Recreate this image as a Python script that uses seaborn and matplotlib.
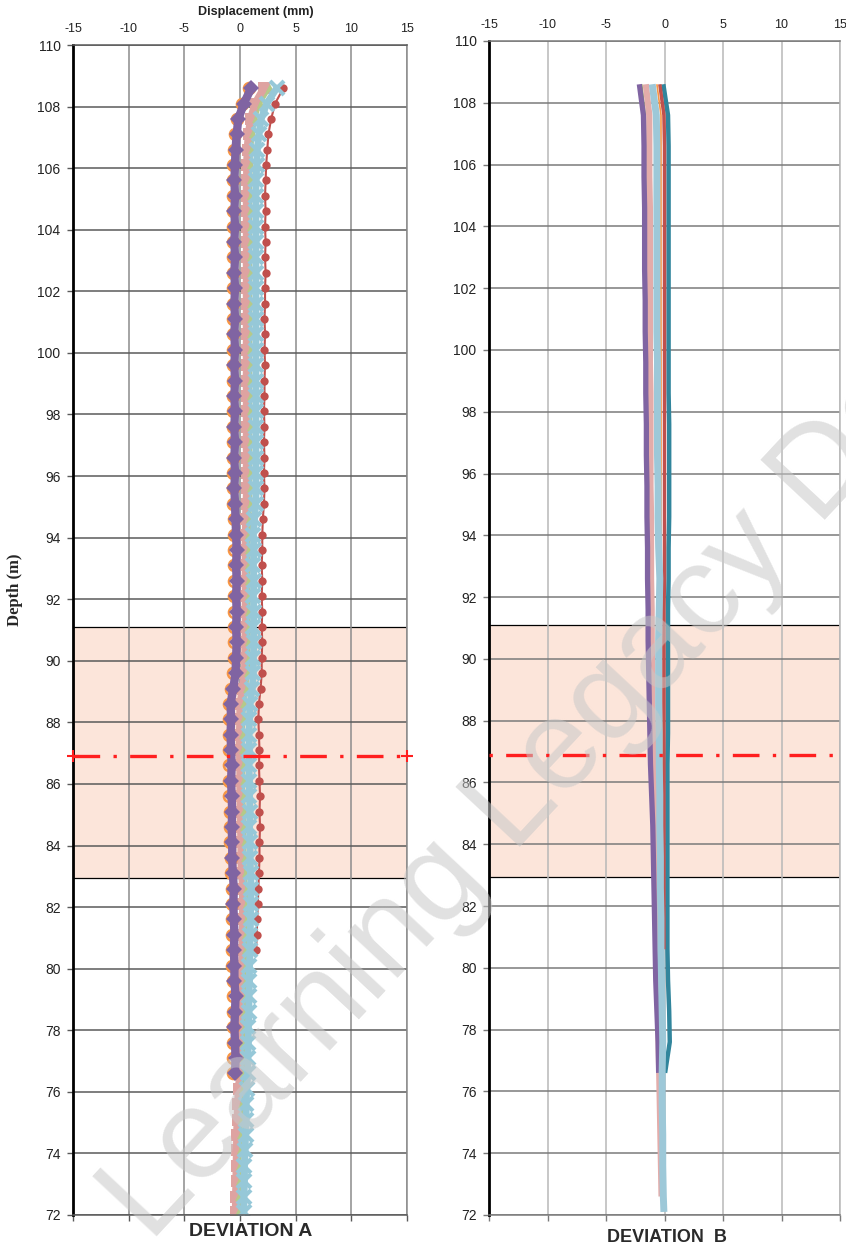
import numpy as np
import matplotlib.pyplot as plt
import seaborn as sns

nan = np.nan

# depth stations (m)
DEPTH_A = [72.1, 72.6, 73.1, 73.6, 74.1, 74.6, 75.1, 75.6, 76.1, 76.6,
           77.1, 77.6, 78.1, 78.6, 79.1, 79.6, 80.1, 80.6, 81.1, 81.6,
           82.1, 82.6, 83.1, 83.6, 84.1, 84.6, 85.1, 85.6, 86.1, 86.6,
           87.1, 87.6, 88.1, 88.6, 89.1, 89.6, 90.1, 90.6, 91.1, 91.6,
           92.1, 92.6, 93.1, 93.6, 94.1, 94.6, 95.1, 95.6, 96.1, 96.6,
           97.1, 97.6, 98.1, 98.6, 99.1, 99.6, 100.1, 100.6, 101.1, 101.6,
           102.1, 102.6, 103.1, 103.6, 104.1, 104.6, 105.1, 105.6, 106.1, 106.6,
           107.1, 107.6, 108.1, 108.6]

DEPTH_B = [72.1, 72.6, 73.6, 74.6, 75.6, 76.6, 77.6, 78.6, 79.6, 80.6,
           81.6, 82.6, 83.6, 84.6, 85.6, 86.6, 87.6, 88.6, 89.6, 90.6,
           91.6, 92.6, 93.6, 94.6, 95.6, 96.6, 97.6, 98.6, 99.6, 100.6,
           101.6, 102.6, 103.6, 104.6, 105.6, 106.6, 107.6, 108.6]

# deviation A readings (mm)
a_red = [nan, nan, nan, nan, nan, nan, nan, nan, nan, nan,
         nan, nan, nan, nan, nan, nan, nan, 1.45, 1.5, 1.55,
         1.6, 1.65, 1.7, 1.75, 1.75, 1.8, 1.75, 1.8, 1.75, 1.7,
         1.75, 1.7, 1.65, 1.7, 1.85, 1.95, 1.95, 2.0, 1.95, 2.0,
         1.95, 2.0, 1.95, 2.0, 2.0, 2.05, 2.15, 2.2, 2.15, 2.2,
         2.15, 2.2, 2.15, 2.2, 2.2, 2.25, 2.2, 2.25, 2.2, 2.25,
         2.25, 2.3, 2.25, 2.3, 2.25, 2.3, 2.25, 2.3, 2.35, 2.45,
         2.55, 2.8, 3.15, 3.9]
a_pink = [-0.35, -0.35, -0.3, -0.3, -0.25, -0.25, -0.2, -0.15, -0.1, 0.05,
          0.1, 0.1, 0.15, 0.15, 0.2, 0.2, 0.2, 0.25, 0.25, 0.3,
          0.3, 0.3, 0.2, 0.15, 0.15, 0.1, 0.1, 0.05, 0.05, 0.05,
          0.0, 0.0, 0.05, 0.05, 0.3, 0.45, 0.5, 0.5, 0.55, 0.5,
          0.55, 0.5, 0.55, 0.5, 0.55, 0.55, 0.6, 0.65, 0.6, 0.65,
          0.6, 0.65, 0.6, 0.65, 0.6, 0.65, 0.6, 0.65, 0.6, 0.65,
          0.6, 0.65, 0.6, 0.65, 0.6, 0.65, 0.6, 0.65, 0.65, 0.7,
          0.8, 1.0, 1.4, 2.2]
a_green = [-0.05, -0.05, 0.0, 0.0, 0.05, 0.1, 0.15, 0.2, 0.25, 0.35,
           0.4, 0.4, 0.45, 0.45, 0.5, 0.5, 0.5, 0.55, 0.55, 0.6,
           0.6, 0.6, 0.5, 0.45, 0.45, 0.4, 0.4, 0.35, 0.35, 0.35,
           0.3, 0.3, 0.35, 0.4, 0.6, 0.75, 0.8, 0.8, 0.85, 0.8,
           0.85, 0.8, 0.85, 0.8, 0.85, 0.9, 0.95, 1.0, 0.95, 1.0,
           0.95, 1.0, 0.95, 1.0, 0.95, 1.0, 0.95, 1.0, 0.95, 1.0,
           0.95, 1.0, 0.95, 1.0, 0.95, 1.0, 0.95, 1.0, 1.0, 1.05,
           1.2, 1.4, 1.85, 2.7]
a_blue = [0.35, 0.35, 0.4, 0.4, 0.45, 0.5, 0.55, 0.55, 0.6, 0.7,
          0.7, 0.75, 0.75, 0.8, 0.8, 0.85, 0.85, 0.9, 0.9, 0.95,
          0.95, 1.0, 0.95, 0.9, 0.9, 0.85, 0.9, 0.85, 0.85, 0.8,
          0.85, 0.8, 0.85, 0.9, 1.1, 1.2, 1.2, 1.25, 1.2, 1.25,
          1.2, 1.25, 1.2, 1.25, 1.2, 1.3, 1.4, 1.45, 1.4, 1.45,
          1.4, 1.45, 1.4, 1.45, 1.4, 1.45, 1.4, 1.45, 1.4, 1.45,
          1.4, 1.45, 1.4, 1.45, 1.4, 1.45, 1.4, 1.45, 1.5, 1.55,
          1.7, 1.9, 2.4, 3.3]
a_orange = [nan, nan, nan, nan, nan, nan, nan, nan, nan, -0.6,
            -0.6, -0.65, -0.65, -0.6, -0.6, -0.65, -0.7, -0.7, -0.7, -0.75,
            -0.75, -0.75, -0.85, -0.85, -0.9, -0.9, -0.9, -0.95, -0.95, -0.95,
            -1.0, -1.0, -1.0, -1.0, -0.8, -0.6, -0.5, -0.5, -0.5, -0.5,
            -0.5, -0.5, -0.5, -0.5, -0.5, -0.55, -0.6, -0.65, -0.6, -0.65,
            -0.6, -0.65, -0.6, -0.65, -0.6, -0.65, -0.6, -0.65, -0.6, -0.65,
            -0.6, -0.65, -0.6, -0.65, -0.6, -0.65, -0.6, -0.65, -0.6, -0.55,
            -0.45, -0.25, 0.2, 0.85]
a_purple = [nan, nan, nan, nan, nan, nan, nan, nan, nan, -0.45,
            -0.4, -0.45, -0.5, -0.45, -0.4, -0.5, -0.5, -0.55, -0.5, -0.55,
            -0.6, -0.55, -0.65, -0.7, -0.7, -0.75, -0.7, -0.75, -0.8, -0.75,
            -0.8, -0.85, -0.8, -0.85, -0.6, -0.4, -0.35, -0.3, -0.35, -0.3,
            -0.35, -0.3, -0.35, -0.3, -0.35, -0.4, -0.45, -0.5, -0.45, -0.5,
            -0.45, -0.5, -0.45, -0.5, -0.45, -0.5, -0.45, -0.5, -0.45, -0.5,
            -0.45, -0.5, -0.45, -0.5, -0.45, -0.5, -0.45, -0.5, -0.45, -0.4,
            -0.3, -0.15, 0.35, 1.0]

# deviation B readings (mm)
b_teal = [nan, nan, nan, nan, nan, 0.05, 0.45, 0.4, 0.3, 0.25,
          0.25, 0.25, 0.25, 0.25, 0.25, 0.25, 0.3, 0.3, 0.3, 0.3,
          0.3, 0.35, 0.35, 0.4, 0.4, 0.4, 0.4, 0.35, 0.35, 0.35,
          0.35, 0.35, 0.35, 0.35, 0.35, 0.35, 0.3, -0.1]
b_red = [nan, nan, nan, nan, nan, nan, nan, nan, nan, -0.05,
         -0.05, -0.05, -0.05, -0.05, -0.05, -0.05, -0.05, -0.05, -0.05, -0.05,
         -0.05, 0.0, 0.0, 0.0, 0.0, 0.0, 0.0, 0.0, 0.0, 0.0,
         0.0, 0.0, 0.0, 0.0, 0.0, 0.0, -0.05, -0.4]
b_orange = [nan, nan, nan, -0.1, -0.1, -0.1, -0.15, -0.15, -0.15, -0.2,
            -0.2, -0.2, -0.25, -0.25, -0.25, -0.25, -0.25, -0.3, -0.3, -0.3,
            -0.3, -0.3, -0.3, -0.3, -0.3, -0.3, -0.3, -0.3, -0.3, -0.3,
            -0.3, -0.3, -0.3, -0.3, -0.3, -0.3, -0.3, -0.65]
b_green = [nan, nan, nan, nan, nan, nan, -0.5, -0.55, -0.6, -0.65,
           -0.7, -0.75, -0.8, -0.85, -0.95, -1.05, -1.1, -1.15, -1.2, -1.25,
           -1.25, -1.3, -1.3, -1.35, -1.35, -1.4, -1.4, -1.45, -1.45, -1.5,
           -1.5, -1.55, -1.55, -1.55, -1.6, -1.6, -1.65, -1.95]
b_pink = [nan, -0.25, -0.3, -0.35, -0.4, -0.45, -0.5, -0.55, -0.6, -0.65,
          -0.7, -0.75, -0.8, -0.85, -0.9, -0.95, -1.0, -1.05, -1.05, -1.1,
          -1.1, -1.15, -1.15, -1.15, -1.2, -1.2, -1.2, -1.2, -1.25, -1.25,
          -1.25, -1.25, -1.25, -1.25, -1.3, -1.3, -1.3, -1.6]
b_purple = [nan, nan, nan, nan, nan, -0.5, -0.55, -0.65, -0.75, -0.8,
            -0.85, -0.9, -0.95, -1.0, -1.1, -1.2, -1.25, -1.3, -1.35, -1.4,
            -1.4, -1.45, -1.45, -1.5, -1.5, -1.55, -1.55, -1.6, -1.6, -1.65,
            -1.65, -1.7, -1.7, -1.7, -1.75, -1.75, -1.8, -2.15]
b_blue = [-0.05, -0.1, -0.15, -0.15, -0.2, -0.2, -0.15, -0.2, -0.25, -0.3,
          -0.3, -0.35, -0.35, -0.4, -0.4, -0.45, -0.45, -0.5, -0.5, -0.5,
          -0.45, -0.4, -0.5, -0.55, -0.55, -0.6, -0.6, -0.6, -0.6, -0.65,
          -0.65, -0.65, -0.65, -0.65, -0.65, -0.65, -0.7, -1.05]

X_LIM = [-15, 15]
Y_LIM = [72, 110]
X_TICKS = [-15, -10, -5, 0, 5, 10, 15]
Y_TICKS = list(range(72, 111, 2))
ZONE = [82.95, 91.1]     # shaded zone (m)
RED_LEVEL = 86.9         # dash-dot marker level (m)

sns.set_style('white')
plt.rcParams['font.family'] = ['Liberation Sans', 'DejaVu Sans']
plt.rcParams['axes.unicode_minus'] = False

fig = plt.figure(figsize=(8.46, 12.48), dpi=100)
axA = fig.add_axes([73/846, 1-1215/1248, 334/846, 1170/1248])
axB = fig.add_axes([489/846, 1-1215/1248, 351/846, 1174/1248])


def style_axes(ax, vcol, hcol):
    ax.set_xlim(X_LIM)
    ax.set_ylim(Y_LIM)
    ax.set_xticks(X_TICKS)
    ax.set_yticks(Y_TICKS)
    ax.set_axisbelow(True)
    ax.grid(True, axis='x', color=vcol, lw=1.1)
    ax.grid(True, axis='y', color=hcol, lw=1.1)
    ax.tick_params(axis='x', top=False, bottom=True, labeltop=True, labelbottom=False,
                   length=4, width=1, color=hcol, labelsize=9, pad=3, labelcolor='#222222')
    ax.tick_params(axis='y', left=True, length=4, width=1, color=hcol,
                   labelsize=10, pad=5, labelcolor='#222222')
    ax.spines['left'].set_color('black')
    ax.spines['left'].set_linewidth(2)
    for s in ['top', 'bottom']:
        ax.spines[s].set_color(hcol)
        ax.spines[s].set_linewidth(1.1)
    ax.spines['right'].set_color(vcol)
    ax.spines['right'].set_linewidth(1.1)
    ax.axhspan(ZONE[0], ZONE[1], facecolor='#FCE5DA', edgecolor='black', lw=0.9, zorder=0.3)
    ax.set_xlabel('')
    ax.set_ylabel('')


def marker_series(vals, col, lw, marker, ms, mew=0, mfc=None):
    sns.lineplot(x=vals, y=DEPTH_A, orient='y', sort=False, estimator=None, ax=axA,
                 color=col, lw=lw, marker=marker, markersize=ms,
                 markeredgewidth=mew, markeredgecolor=col,
                 markerfacecolor=col if mfc is None else mfc)


# --- Deviation A: lines with markers
marker_series(a_red, '#C0504D', 1.5, 'o', 6)
marker_series(a_pink, '#DEA3A1', 6, 's', 9)
marker_series(a_green, '#B5C98A', 2, '^', 6)
marker_series(a_blue, '#96C8D8', 5, 'x', 10, mew=3)
marker_series(a_orange, '#F79646', 1.5, 'o', 8, mew=1.8, mfc='none')
marker_series(a_purple, '#8064A2', 6, 'D', 8.5)

# --- Deviation B: lines only
b_series = [(b_teal, '#31859C', 3.2), (b_red, '#C0504D', 2.5), (b_orange, '#F79646', 1.2),
            (b_green, '#9BBB59', 1.2), (b_pink, '#E3ACAA', 4.5), (b_purple, '#8064A2', 3.8),
            (b_blue, '#9DC8D8', 5.0)]
for vals, col, w in b_series:
    sns.lineplot(x=vals, y=DEPTH_B, orient='y', sort=False, estimator=None, ax=axB,
                 color=col, lw=w, solid_capstyle='butt')

style_axes(axA, '#8c8c8c', '#5a5a5a')
style_axes(axB, '#b8b8b8', '#7a7a7a')

# red dash-dot reference level
axA.axhline(RED_LEVEL, color='#FF1F1F', lw=2.4, dashes=(8, 4, 1, 4), zorder=5)
axA.plot(X_LIM, [RED_LEVEL, RED_LEVEL], ls='none', marker='+', ms=8, mew=1.5,
         color='#FF1F1F', clip_on=False, zorder=5)
axB.axhline(RED_LEVEL, xmin=0, xmax=1.03, color='#FF1F1F', lw=2.4, dashes=(1, 4, 8, 4),
            zorder=5, clip_on=False)

# labels
fig.text(256/846, 1-12/1248, 'Displacement (mm)', fontsize=9, fontweight='bold',
         ha='center', va='center', color='#222222')
fig.text(15/846, 1-590/1248, 'Depth (m)', fontsize=12, fontweight='bold', rotation=90,
         ha='center', va='center', family=['Liberation Serif', 'DejaVu Serif'])
fig.text(251/846, 1-1232/1248, 'DEVIATION A', fontsize=14, fontweight='bold',
         ha='center', va='center', color='#2a2a2a')
fig.text(667/846, 1-1238/1248, 'DEVIATION  B', fontsize=13, fontweight='bold',
         ha='center', va='center', color='#2a2a2a')

# watermark
fig.text(150/846, 1-1244/1248, 'Learning Legacy Document', fontsize=92, rotation=47,
         rotation_mode='anchor', ha='left', va='baseline', color='#c8c8c8', alpha=0.55,
         zorder=10)

fig.savefig('out.png', dpi=100)
